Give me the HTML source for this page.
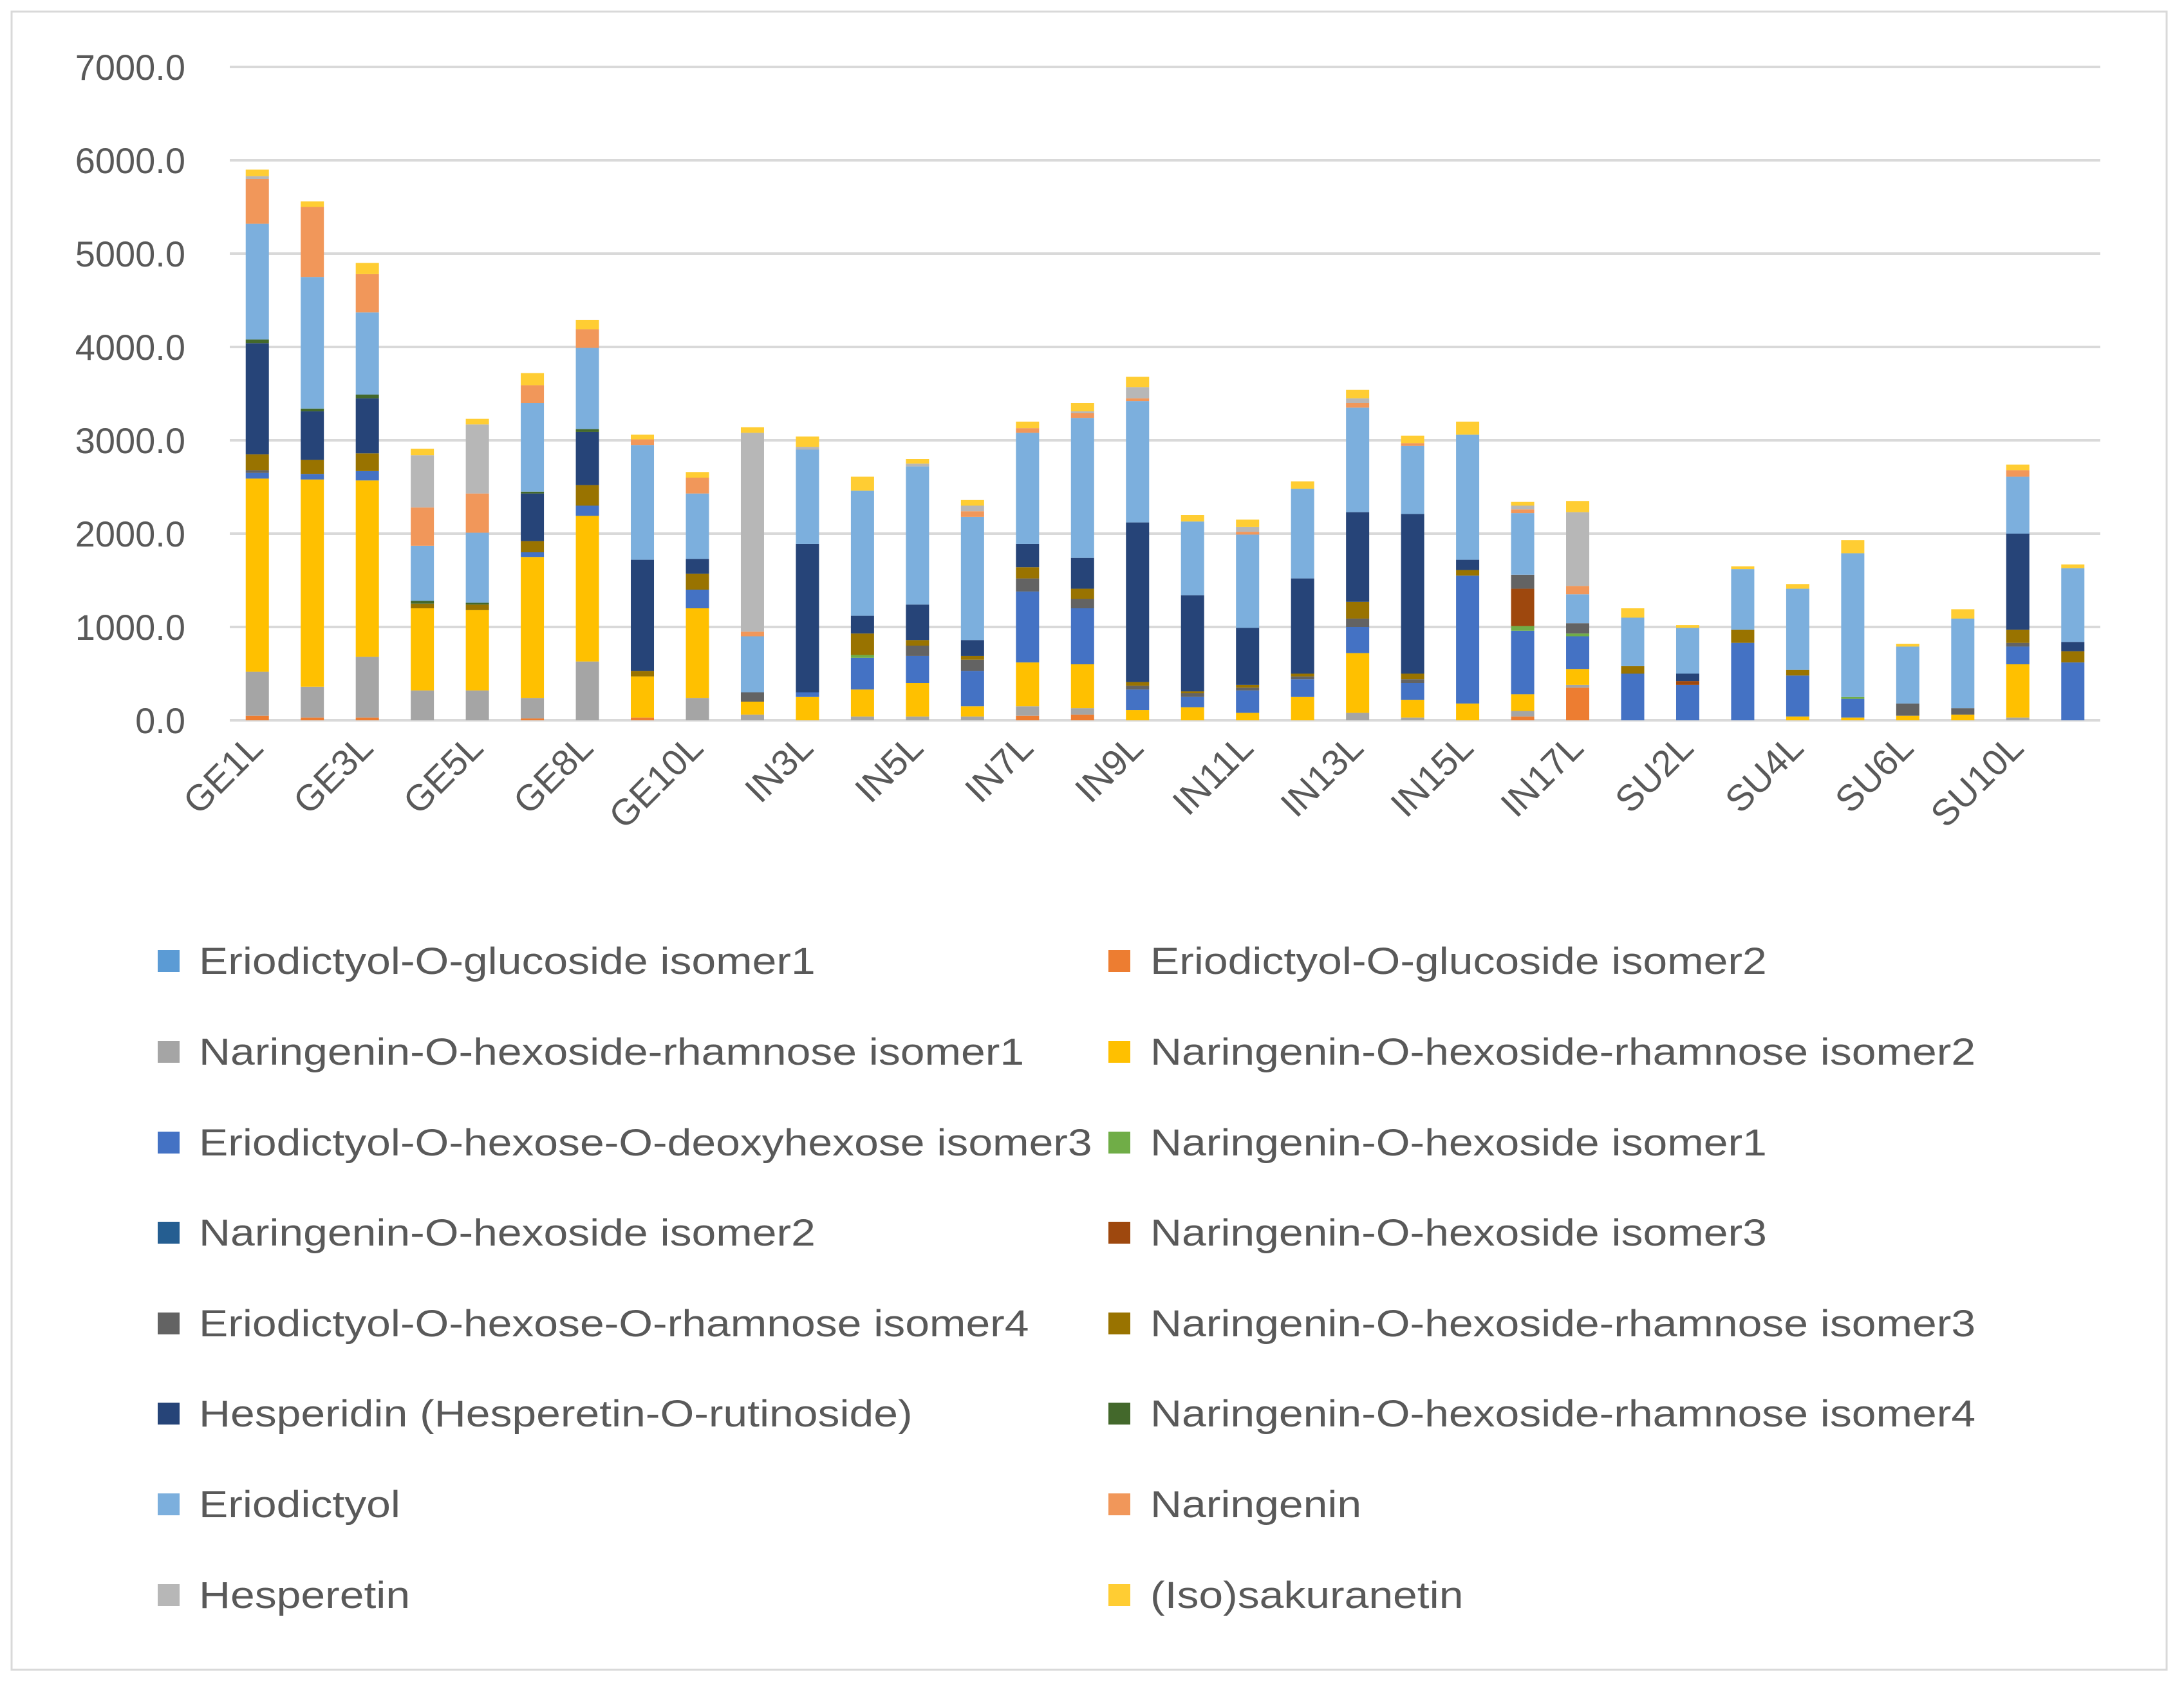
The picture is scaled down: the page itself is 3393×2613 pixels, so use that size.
<!DOCTYPE html>
<html><head><meta charset="utf-8"><style>
html,body{margin:0;padding:0;background:#fff;}
svg{display:block;font-family:"Liberation Sans",sans-serif;}
</style></head><body>
<svg id="chart" width="3393" height="2613" viewBox="0 0 3393 2613" xmlns="http://www.w3.org/2000/svg">
<rect x="18" y="18" width="3348" height="2576" fill="#fff" stroke="#d9d9d9" stroke-width="3"/>
<g id="grid"></g><g id="bars"></g><g id="yticks"></g><g id="xticks"></g><g id="legend"></g>
</svg>
<script>
const categories=["GE1L","GE2L","GE3L","GE4L","GE5L","GE7L","GE8L","GE9L","GE10L","IN2L","IN3L","IN4L","IN5L","IN6L","IN7L","IN8L","IN9L","IN10L","IN11L","IN12L","IN13L","IN14L","IN15L","IN16L","IN17L","SU1L","SU2L","SU3L","SU4L","SU5L","SU6L","SU7L","SU10L","SU11L"];
const labeledCategories=["GE1L","GE3L","GE5L","GE8L","GE10L","IN3L","IN5L","IN7L","IN9L","IN11L","IN13L","IN15L","IN17L","SU2L","SU4L","SU6L","SU10L"];
const seriesNames=["Eriodictyol-O-glucoside isomer1","Eriodictyol-O-glucoside isomer2","Naringenin-O-hexoside-rhamnose isomer1","Naringenin-O-hexoside-rhamnose isomer2","Eriodictyol-O-hexose-O-deoxyhexose isomer3","Naringenin-O-hexoside isomer1","Naringenin-O-hexoside isomer2","Naringenin-O-hexoside isomer3","Eriodictyol-O-hexose-O-rhamnose isomer4","Naringenin-O-hexoside-rhamnose isomer3","Hesperidin (Hesperetin-O-rutinoside)","Naringenin-O-hexoside-rhamnose isomer4","Eriodictyol","Naringenin","Hesperetin","(Iso)sakuranetin"];
const seriesColors=["#5B9BD5","#ED7D31","#A5A5A5","#FFC000","#4472C4","#70AD47","#255E91","#9E480E","#636363","#997300","#264478","#43682B","#7CAFDD","#F1975A","#B7B7B7","#FFCD33"];
const yTicks=[0,1000,2000,3000,4000,5000,6000,7000];
const s0=[0,0,0,0,0,0,0,0,0,0,0,0,0,0,0,0,0,0,0,0,0,0,0,0,0,0,0,0,0,0,0,0,0,0];
const s1=[50,30,30,0,0,20,0,30,0,0,0,0,0,0,50,60,0,0,0,0,0,0,0,40,350,0,0,0,0,0,0,0,0,0];
const s2=[470,330,650,320,320,220,630,0,240,60,0,40,40,40,100,70,0,0,0,0,80,30,0,60,30,0,0,0,0,0,0,0,30,0];
const s3=[2070,2220,1890,880,860,1510,1560,440,960,140,250,290,360,110,470,470,110,140,80,250,640,190,180,180,170,0,0,0,40,30,50,60,570,0];
const s4=[60,60,100,0,0,50,110,0,200,0,50,340,290,380,760,600,220,110,240,190,280,180,1370,680,350,500,380,830,440,200,0,0,190,620];
const s5=[0,0,0,0,0,0,0,0,0,0,0,30,0,0,0,0,0,0,0,0,0,0,0,50,30,0,0,0,0,20,0,0,0,0];
const s6=[0,0,0,0,0,0,0,0,0,0,0,0,0,0,0,0,0,0,0,0,0,0,0,0,0,0,0,0,0,0,0,0,0,0];
const s7=[0,0,0,0,0,0,0,0,0,0,0,0,0,0,0,0,0,0,0,0,0,0,0,400,0,0,40,0,0,0,0,0,0,0];
const s8=[30,0,0,0,0,0,0,0,0,100,0,0,110,120,140,100,40,40,30,30,90,40,0,150,110,0,0,0,0,0,130,70,40,0];
const s9=[170,150,190,50,60,120,220,60,170,0,0,230,60,40,120,110,40,20,30,30,180,60,60,0,0,80,0,140,60,0,0,0,140,120];
const s10=[1190,520,590,0,0,510,570,1190,160,0,1590,190,380,170,250,330,1710,1030,610,1020,960,1710,110,0,0,0,80,0,0,0,0,0,1030,100];
const s11=[40,30,40,30,20,20,30,0,0,0,0,0,0,0,0,0,0,0,0,0,0,0,0,0,0,0,0,0,0,0,0,0,0,0];
const s12=[1240,1410,880,590,750,950,870,1230,700,600,1010,1340,1480,1320,1190,1500,1300,790,1000,960,1120,730,1340,660,310,520,490,650,870,1540,610,960,610,790];
const s13=[480,750,410,410,420,190,200,60,170,50,0,0,0,60,50,50,30,0,30,0,50,30,0,40,90,0,0,0,0,0,0,0,70,0];
const s14=[30,0,0,560,740,0,0,0,0,2130,30,0,30,60,0,20,120,0,50,0,50,0,0,40,790,0,0,0,0,0,0,0,0,0];
const s15=[70,60,120,70,60,130,100,50,60,60,110,150,50,60,70,90,110,70,80,80,90,80,140,40,120,100,30,30,50,140,30,100,60,40];
const series=[s0,s1,s2,s3,s4,s5,s6,s7,s8,s9,s10,s11,s12,s13,s14,s15];

const NS="http://www.w3.org/2000/svg";
const X0=357,X1=3263,Y0=1119,Y7=104,YMAX=7000;
const band=(X1-X0)/categories.length, barW=36;
function yScale(v){return Y0-(v/YMAX)*(Y0-Y7);}
function xCenter(i){return X0+band*(i+0.5);}
function mk(tag,attrs,parent){const e=document.createElementNS(NS,tag);for(const k in attrs)e.setAttribute(k,attrs[k]);parent.appendChild(e);return e;}

const grid=document.getElementById('grid'),yt=document.getElementById('yticks');
yTicks.forEach(t=>{
  const l=mk('line',{x1:X0,x2:X1,y1:yScale(t),y2:yScale(t),stroke:'#d9d9d9','stroke-width':4},grid);
  
  
  const tx=mk('text',{x:288,y:yScale(t)+20,'text-anchor':'end','font-size':56,fill:'#595959'},yt);
  tx.textContent=t.toFixed(1);
  
  
});

const bars=document.getElementById('bars');
categories.forEach((c,i)=>{
  let cum=0;
  series.forEach((s,k)=>{
    const v=s[i]; if(!v) return;
    const y1=yScale(cum), y2=yScale(cum+v);
    const r=mk('rect',{x:xCenter(i)-barW/2,y:y2,width:barW,height:y1-y2,fill:seriesColors[k]},bars);
    
    
    cum+=v;
  });
});

const xt=document.getElementById('xticks');
labeledCategories.forEach(c=>{
  const i=categories.indexOf(c);
  const x=xCenter(i)+12, y=1165;
  const t=mk('text',{x:x,y:y,'text-anchor':'end','font-size':57,fill:'#595959',transform:`rotate(-45 ${x} ${y})`},xt);
  t.textContent=c;
  
  
});

const lg=document.getElementById('legend');
const rowsY=[1493,1634,1775,1915,2056,2196,2337,2478];
seriesNames.forEach((n,k)=>{
  const col=k%2,row=Math.floor(k/2);
  const mx=col?1722:245, tx=col?1787:309, y=rowsY[row];
  const g=mk('g',{},lg);
  
  
  mk('rect',{x:mx,y:y-17,width:34,height:34,fill:seriesColors[k]},g);
  const t=mk('text',{x:0,y:0,'font-size':58,fill:'#595959',transform:`translate(${tx} ${y+20}) scale(1.17 1)`},g);
  t.textContent=n;
});
</script>
</body></html>
